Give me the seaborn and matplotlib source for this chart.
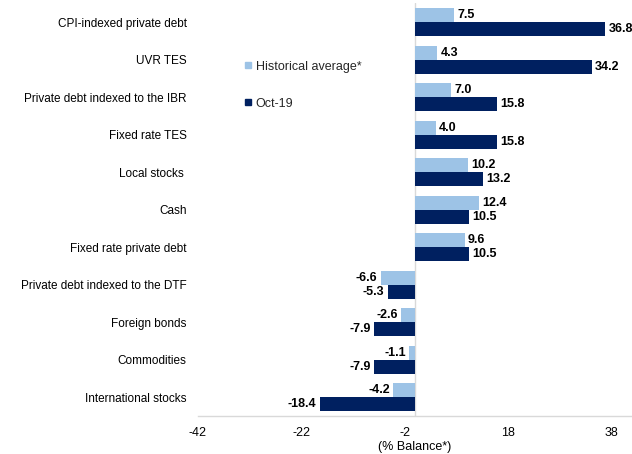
import matplotlib
matplotlib.use("Agg")
import matplotlib.pyplot as plt
from matplotlib.lines import Line2D
import seaborn as sns
import pandas as pd

categories = [
    "CPI-indexed private debt",
    "UVR TES",
    "Private debt indexed to the IBR",
    "Fixed rate TES",
    "Local stocks ",
    "Cash",
    "Fixed rate private debt",
    "Private debt indexed to the DTF",
    "Foreign bonds",
    "Commodities",
    "International stocks",
]
historical = [7.5, 4.3, 7.0, 4.0, 10.2, 12.4, 9.6, -6.6, -2.6, -1.1, -4.2]
oct19 = [36.8, 34.2, 15.8, 15.8, 13.2, 10.5, 10.5, -5.3, -7.9, -7.9, -18.4]
series_names = ["Historical average*", "Oct-19"]
xticks = [-42, -22, -2, 18, 38]

colors = ["#9DC3E6", "#002060"]

df = pd.DataFrame({
    "category": categories * 2,
    "value": historical + oct19,
    "series": [series_names[0]] * len(categories) + [series_names[1]] * len(categories),
})

sns.set_theme(style="white")
plt.rcParams["font.family"] = ["Liberation Sans", "DejaVu Sans"]

fig = plt.figure(figsize=(6.32, 4.54), dpi=100)
ax = fig.add_axes([0.313, 0.0837, 0.687, 0.909])

sns.barplot(data=df, y="category", x="value", hue="series", hue_order=series_names,
            order=categories, palette=colors, orient="h", width=0.75, saturation=1,
            edgecolor="none", linewidth=0, ax=ax, legend=False)

for cont in ax.containers:
    ax.bar_label(cont, fmt="%.1f", padding=2.5, fontsize=9, fontweight="bold", color="black")

ax.set_xlim(-42, 42)
ax.set_xticks(xticks)
ax.set_xticklabels([str(t) for t in xticks])
ax.set_ylabel("")
ax.set_xlabel("(% Balance*)", fontsize=9, labelpad=1, color="black")
ax.tick_params(axis="x", length=0, pad=8, labelsize=9, labelcolor="black")
ax.tick_params(axis="y", length=0, pad=8, labelsize=8.5, labelcolor="black")

for s in ["top", "right", "left"]:
    ax.spines[s].set_visible(False)
ax.spines["bottom"].set_color("#D9D9D9")
ax.spines["bottom"].set_linewidth(1)
ax.axvline(0, color="#D9D9D9", linewidth=1, zorder=0)

handles = [Line2D([0], [0], marker="s", linestyle="none", markersize=5,
                  markerfacecolor=c, markeredgecolor=c) for c in colors]
ax.legend(handles, series_names, loc="upper left", bbox_to_anchor=(0.107, 0.861),
          frameon=False, fontsize=9, labelspacing=2.0, handlelength=0.6,
          handletextpad=0.3, borderpad=0, borderaxespad=0)

fig.savefig("out.png", dpi=100)
